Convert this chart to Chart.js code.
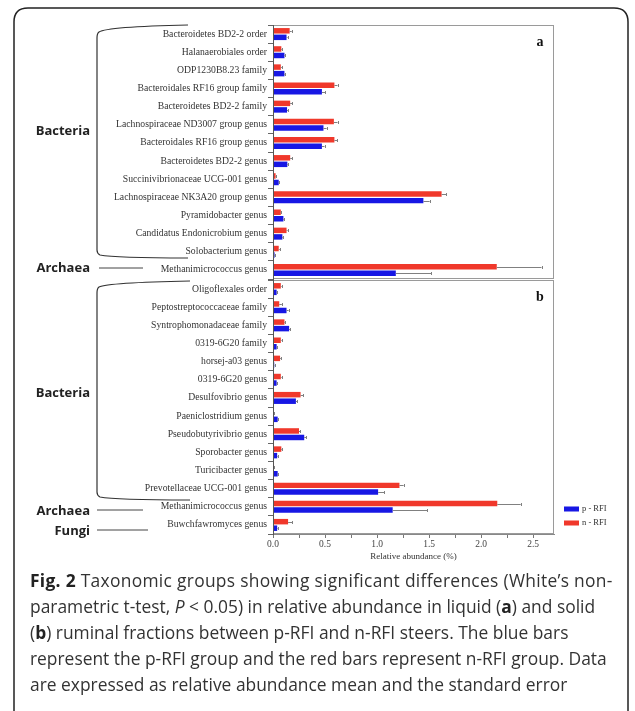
<!DOCTYPE html>
<html>
<head>
<meta charset="utf-8">
<script src="https://cdn.jsdelivr.net/npm/chart.js@4.4.1/dist/chart.umd.min.js"></script>
<style>
  html, body { margin: 0; padding: 0; background: #fff; }
  #wrap { position: relative; width: 635px; height: 711px; overflow: hidden; background: #fff; }
  #wrap canvas, #wrap svg { position: absolute; left: 0; top: 0; }
  .grp { position: absolute; left: 0; width: 90px; text-align: right; font-family: "Open Sans", sans-serif;
         font-weight: 700; font-size: 13px; line-height: 14px; color: #222; white-space: nowrap; }
  #cap { position: absolute; left: 30px; top: 567px; font-family: "Open Sans", sans-serif; font-size: 17.4px;
         line-height: 26px; color: #333; white-space: nowrap; }
  #cap b { color: #222; }
  #cap .lead { letter-spacing: 0.3px; }
</style>
</head>
<body>
<div id="wrap">
  <svg width="635" height="711" viewBox="0 0 635 711">
    <!-- figure frame -->
    <path d="M14 711 L14 22 Q14 8 28 8 L614 8 Q628 8 628 22 L628 711" fill="none" stroke="#222" stroke-width="1.5"/>
    <!-- group brackets, panel a -->
    <path d="M188 25 C140 26 105 28 99 32 C97 33.5 97 35 97 38 L97 250 C97 253 98 254 100 255 C110 257 150 258 188 258"
          fill="none" stroke="#333" stroke-width="1.2"/>
    <line x1="99" y1="268" x2="143" y2="268" stroke="#444" stroke-width="1"/>
    <!-- group brackets, panel b -->
    <path d="M190 281 C140 282 105 284 99 287 C97 288.5 97 290 97 293 L97 492 C97 495 98 496 100 497 C110 499 150 500 190 500"
          fill="none" stroke="#333" stroke-width="1.2"/>
    <line x1="97" y1="510" x2="143" y2="510" stroke="#444" stroke-width="1"/>
    <line x1="97" y1="530" x2="148" y2="530" stroke="#444" stroke-width="1"/>
  </svg>
  <canvas id="liquid" width="635" height="711"></canvas>
  <canvas id="solid" width="635" height="711"></canvas>

  <div class="grp" style="top:123px">Bacteria</div>
  <div class="grp" style="top:260px">Archaea</div>
  <div class="grp" style="top:385px">Bacteria</div>
  <div class="grp" style="top:503px">Archaea</div>
  <div class="grp" style="top:523px">Fungi</div>

  <div id="cap"><span class="lead"><b>Fig. 2</b> Taxonomic groups showing significant differences (White’s non-</span><br>parametric t-test, <i>P</i> &lt; 0.05) in relative abundance in liquid (<b>a</b>) and solid<br>(<b>b</b>) ruminal fractions between p-RFI and n-RFI steers. The blue bars<br>represent the p-RFI group and the red bars represent n-RFI group. Data<br>are expressed as relative abundance mean and the standard error</div>
</div>

<script>
// ---- Liquid fraction (panel a) ----
const taxaLiquid = [
  'Bacteroidetes BD2-2 order', 'Halanaerobiales order', 'ODP1230B8.23 family',
  'Bacteroidales RF16 group family', 'Bacteroidetes BD2-2 family',
  'Lachnospiraceae ND3007 group genus', 'Bacteroidales RF16 group genus',
  'Bacteroidetes BD2-2 genus', 'Succinivibrionaceae UCG-001 genus',
  'Lachnospiraceae NK3A20 group genus', 'Pyramidobacter genus',
  'Candidatus Endonicrobium genus', 'Solobacterium genus', 'Methanimicrococcus genus'
];
const nRfiLiquid   = [0.16, 0.08, 0.075, 0.59, 0.165, 0.585, 0.59, 0.165, 0.025, 1.62, 0.075, 0.13, 0.055, 2.15];
const nRfiLiquidSE = [0.02, 0.01, 0.01, 0.03, 0.02, 0.035, 0.025, 0.02, 0.005, 0.045, 0.005, 0.01, 0.01, 0.43];
const pRfiLiquid   = [0.13, 0.11, 0.11, 0.47, 0.135, 0.485, 0.47, 0.138, 0.055, 1.445, 0.1, 0.09, 0.015, 1.18];
const pRfiLiquidSE = [0.01, 0.01, 0.01, 0.03, 0.01, 0.03, 0.025, 0.01, 0.005, 0.06, 0.01, 0.01, 0.005, 0.34];

// ---- Solid fraction (panel b) ----
const taxaSolid = [
  'Oligoflexales order', 'Peptostreptococcaceae family', 'Syntrophomonadaceae family',
  '0319-6G20 family', 'horsej-a03 genus', '0319-6G20 genus', 'Desulfovibrio genus',
  'Paeniclostridium genus', 'Pseudobutyrivibrio genus', 'Sporobacter genus',
  'Turicibacter genus', 'Prevotellaceae UCG-001 genus', 'Methanimicrococcus genus',
  'Buwchfawromyces genus'
];
const nRfiSolid   = [0.075, 0.06, 0.11, 0.075, 0.068, 0.075, 0.265, 0.008, 0.25, 0.08, 0.01, 1.215, 2.155, 0.145];
const nRfiSolidSE = [0.008, 0.025, 0.01, 0.008, 0.008, 0.008, 0.025, 0.003, 0.01, 0.01, 0.003, 0.04, 0.225, 0.04];
const pRfiSolid   = [0.035, 0.13, 0.155, 0.035, 0.012, 0.035, 0.22, 0.045, 0.30, 0.04, 0.045, 1.01, 1.15, 0.04];
const pRfiSolidSE = [0.005, 0.02, 0.01, 0.005, 0.003, 0.005, 0.015, 0.005, 0.02, 0.005, 0.005, 0.06, 0.33, 0.005];

const abundanceTicks = ['0.0', '0.5', '1.0', '1.5', '2.0', '2.5'];
const seriesNames = ['n - RFI', 'p - RFI'];

const RED = '#f0382b';
const BLUE = '#1717e4';
const SERIF = '"Liberation Serif", "Times New Roman", serif';

// one-sided standard-error whiskers at the end of each bar
const errorBars = {
  id: 'errorBars',
  afterDatasetsDraw(chart) {
    const { ctx } = chart;
    const x = chart.scales.x;
    ctx.save();
    ctx.strokeStyle = '#808080';
    ctx.lineWidth = 1;
    chart.data.datasets.forEach((ds, i) => {
      chart.getDatasetMeta(i).data.forEach((bar, j) => {
        const v = ds.data[j], e = ds.errors[j];
        const x0 = x.getPixelForValue(v), x1 = x.getPixelForValue(v + e);
        const y = Math.round(bar.y) + 0.5;
        ctx.beginPath();
        ctx.moveTo(x0, y); ctx.lineTo(x1, y);
        ctx.moveTo(Math.round(x1) + 0.5, y - 1.5); ctx.lineTo(Math.round(x1) + 0.5, y + 1.5);
        ctx.stroke();
      });
    });
    ctx.restore();
  }
};

// panel box and panel letter
const panelFrame = {
  id: 'panelFrame',
  afterDraw(chart, args, opts) {
    const { ctx, chartArea: a } = chart;
    ctx.save();
    ctx.strokeStyle = '#9a9a9a';
    ctx.lineWidth = 1;
    ctx.strokeRect(a.left + 0.5, a.top + 0.5, a.right - a.left - 1, a.bottom - a.top - 1);
    ctx.strokeStyle = '#555';
    ctx.beginPath();
    ctx.moveTo(a.left + 0.5, a.top); ctx.lineTo(a.left + 0.5, a.bottom);
    ctx.stroke();
    ctx.fillStyle = '#111';
    ctx.font = 'bold 14px ' + SERIF;
    ctx.textAlign = 'center';
    ctx.textBaseline = 'middle';
    ctx.fillText(opts.tag, a.right - 14, a.top + 17);
    ctx.restore();
  }
};

// legend drawn to the right of the plot, p-RFI first
const sideLegend = {
  id: 'sideLegend',
  afterDraw(chart, args, opts) {
    if (!opts.show) return;
    const { ctx, chartArea: a } = chart;
    const items = chart.data.datasets.slice().reverse();
    ctx.save();
    ctx.font = '8.5px ' + SERIF;
    ctx.textBaseline = 'middle';
    ctx.fillStyle = '#333';
    items.forEach((ds, k) => {
      const y = a.bottom - 25 + k * 14;
      ctx.fillStyle = ds.backgroundColor;
      ctx.fillRect(a.right + 10, y - 2.5, 15, 5);
      ctx.fillStyle = '#333';
      ctx.fillText(ds.label, a.right + 28, y);
    });
    ctx.restore();
  }
};

function makeDatasets(nVals, nSE, pVals, pSE) {
  return [
    { label: seriesNames[0], data: nVals, errors: nSE, backgroundColor: RED },
    { label: seriesNames[1], data: pVals, errors: pSE, backgroundColor: BLUE }
  ];
}

function yAxis() {
  return {
    ticks: { font: { family: SERIF, size: 9.7 }, color: '#333', padding: 1, autoSkip: false },
    grid: { drawOnChartArea: false, drawTicks: true, tickLength: 5, color: '#666' },
    border: { display: true, color: '#555' },
    afterFit(s) { s.width = 273; }
  };
}

function makePanel(id, labels, datasets, tag, padTop, padBottom, showAxis) {
  return new Chart(document.getElementById(id), {
    type: 'bar',
    data: { labels, datasets },
    options: {
      indexAxis: 'y',
      responsive: false,
      animation: false,
      events: [],
      layout: { padding: { left: 0, right: 81, top: padTop, bottom: padBottom } },
      datasets: { bar: { categoryPercentage: 0.72, barPercentage: 0.84 } },
      plugins: {
        legend: { display: false },
        tooltip: { enabled: false },
        panelFrame: { tag },
        sideLegend: { show: showAxis }
      },
      scales: {
        x: showAxis ? {
          type: 'linear', min: 0, max: 2.7,
          ticks: {
            stepSize: 0.25, includeBounds: false, autoSkip: false, maxRotation: 0, padding: 1,
            color: '#444', font: { family: SERIF, size: 9.5 },
            callback(v) { const k = Math.round(v * 4); return k % 2 === 0 ? (abundanceTicks[k / 2] ?? '') : ''; }
          },
          grid: { drawOnChartArea: false, drawTicks: true, tickLength: 4, color: '#777' },
          border: { display: true, color: '#888' },
          title: { display: true, text: 'Relative abundance (%)', color: '#333',
                   font: { family: SERIF, size: 9 }, padding: { top: 0, bottom: 2 } },
          afterFit(s) { s.height = 30; }
        } : { type: 'linear', min: 0, max: 2.7, display: false },
        y: yAxis()
      }
    },
    plugins: [errorBars, panelFrame, sideLegend]
  });
}

makePanel('liquid', taxaLiquid, makeDatasets(nRfiLiquid, nRfiLiquidSE, pRfiLiquid, pRfiLiquidSE), 'a', 25, 432, false);
makePanel('solid', taxaSolid, makeDatasets(nRfiSolid, nRfiSolidSE, pRfiSolid, pRfiSolidSE), 'b', 280, 147, true);
</script>
</body>
</html>
